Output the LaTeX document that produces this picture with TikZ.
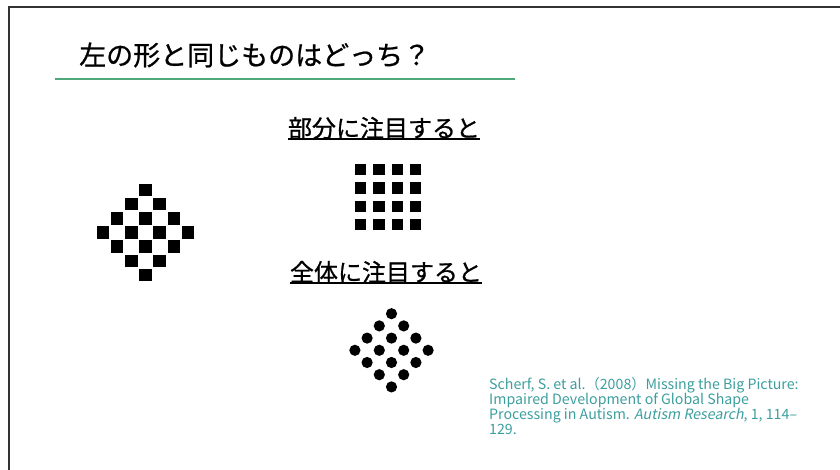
\documentclass[tikz,border=0pt]{standalone}
\usepackage{fontspec}
\setmainfont{Noto Sans CJK JP}[ItalicFont=Noto Sans CJK JP, ItalicFeatures={FakeSlant=0.2}]
\newfontfamily\headfont{Noto Sans CJK JP}[FakeBold=0.8]
\definecolor{framegray}{HTML}{333333}
\definecolor{titlegreen}{HTML}{4FA87A}
\definecolor{refteal}{HTML}{3D9E9E}
\tikzset{
  titletext/.style={anchor=west, inner sep=0pt, font=\headfont\fontsize{27}{30}\selectfont, text=black},
  subtext/.style={anchor=center, inner sep=0pt, font=\headfont\fontsize{24}{28}\selectfont, text=black},
  reftext/.style={anchor=north west, inner sep=0pt, align=left, font=\fontsize{14.2}{15.2}\selectfont, text=refteal},
  uline/.style={line width=1.5pt, black},
}
\begin{document}
\begin{tikzpicture}[x=1pt,y=-1pt]
\useasboundingbox (0,0) rectangle (840,470);
% frame
\draw[line width=1.6pt, framegray] (9,470) -- (9,7) -- (840,7);
% title
\node[titletext] (title) at (79,55) {左の形と同じものはどっち？};
\coordinate (gl1) at (55,79);
\coordinate (gl2) at (515,79);
\draw[line width=2pt, titlegreen] (gl1) -- (gl2);
% left diamond of squares
\foreach \i in {0,...,3}{
  \foreach \j in {0,...,3}{
    \fill[black] ({145.5+14.15*(\i-\j)-6.25},{232.5+14.15*(\i+\j-3)-6.25}) rectangle ++(12.5,12.5);
  }
}
% subtitle 1
\node[subtext] (s1) at (384,128) {部分に注目すると};
\draw[uline] ([yshift=-2pt]s1.base west) -- ([yshift=-2pt]s1.base east);
% grid of squares
\foreach \i in {0,...,3}{
  \foreach \j in {0,...,3}{
    \fill[black] ({355+18.35*\i},{164+18.35*\j}) rectangle ++(11.3,11.3);
  }
}
% subtitle 2
\node[subtext] (s2) at (386,272) {全体に注目すると};
\draw[uline] ([yshift=-2pt]s2.base west) -- ([yshift=-2pt]s2.base east);
% diamond of circles
\foreach \i in {0,...,3}{
  \foreach \j in {0,...,3}{
    \fill[black] ({391.5+12.2*(\i-\j)},{350.3+12.2*(\i+\j-3)}) circle (5.6);
  }
}
% reference
\node[reftext] (ref) at (489,377) {Scherf, S. et al.（2008）Missing the Big Picture:\\Impaired Development of Global Shape\\Processing in Autism. \textit{Autism Research}, 1, 114–\\129.};
\end{tikzpicture}
\end{document}
